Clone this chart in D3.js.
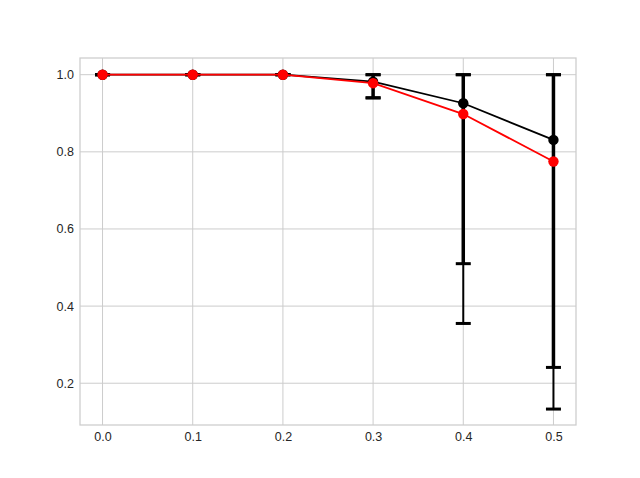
<!DOCTYPE html>
<html><head><meta charset="utf-8">
<script src="https://cdn.jsdelivr.net/npm/d3@7"></script>
<style>body{margin:0;background:#fff}svg{display:block}</style>
</head><body>
<script>
const xs = [0.0, 0.1, 0.2, 0.3, 0.4, 0.5];
const blackVals = [1.0, 1.0, 1.0, 0.982, 0.926, 0.831];
const redVals = [1.0, 1.0, 1.0, 0.978, 0.898, 0.775];
// thick error bar (lower, upper)
const thickLo = [1.0, 1.0, 1.0, 0.94, 0.51, 0.241];
const thickHi = [1.0, 1.0, 1.0, 1.0, 1.0, 1.0];
// thin error bar (lower, upper)
const thinLo = [1.0, 1.0, 1.0, 0.94, 0.355, 0.133];
const thinHi = [1.0, 1.0, 1.0, 1.0, 1.0, 1.0];
const xTicks = [0.0, 0.1, 0.2, 0.3, 0.4, 0.5];
const yTicks = [0.2, 0.4, 0.6, 0.8, 1.0];

const W = 640, H = 478;
const L = 80, R = 576, T = 58, B = 425;
const svg = d3.select("body").append("svg").attr("width", W).attr("height", H);
const x = d3.scaleLinear().domain([-0.025, 0.525]).range([L, R]);
const y = d3.scaleLinear().domain([0.0917, 1.0433]).range([B, T]);

// grid
const g = svg.append("g");
g.selectAll(".gx").data(xTicks).join("line")
  .attr("x1", d => x(d)).attr("x2", d => x(d)).attr("y1", T).attr("y2", B)
  .attr("stroke", "#cccccc").attr("stroke-width", 1);
g.selectAll(".gy").data(yTicks).join("line")
  .attr("y1", d => y(d)).attr("y2", d => y(d)).attr("x1", L).attr("x2", R)
  .attr("stroke", "#cccccc").attr("stroke-width", 1);

// axes via d3
const xAxis = svg.append("g").attr("transform", `translate(0,${B})`)
  .call(d3.axisBottom(x).tickValues(xTicks).tickFormat(d3.format(".1f")).tickSize(0).tickPadding(7));
const yAxis = svg.append("g").attr("transform", `translate(${L},0)`)
  .call(d3.axisLeft(y).tickValues(yTicks).tickFormat(d3.format(".1f")).tickSize(0).tickPadding(6));
[xAxis, yAxis].forEach(a => {
  a.select(".domain").remove();
  a.selectAll("text").attr("font-family", "Liberation Sans, Arial, sans-serif")
    .attr("font-size", "12.5px").attr("fill", "#262626");
});
svg.append("rect").attr("x", L).attr("y", T).attr("width", R - L).attr("height", B - T)
  .attr("fill", "none").attr("stroke", "#cccccc").attr("stroke-width", 1.25);

const capW = 7.5;
function errbars(lo, hi, sw) {
  const eg = svg.append("g");
  xs.forEach((xv, i) => {
    eg.append("line").attr("x1", x(xv)).attr("x2", x(xv)).attr("y1", y(lo[i])).attr("y2", y(hi[i]))
      .attr("stroke", "#000").attr("stroke-width", sw);
    [lo[i], hi[i]].forEach(v => {
      eg.append("line").attr("x1", x(xv) - capW).attr("x2", x(xv) + capW).attr("y1", y(v)).attr("y2", y(v))
        .attr("stroke", "#000").attr("stroke-width", 3);
    });
  });
}
errbars(thinLo, thinHi, 2);
errbars(thickLo, thickHi, 3.5);

const line = d3.line().x((d, i) => x(xs[i])).y(d => y(d));
function series(vals, color) {
  svg.append("path").datum(vals).attr("d", line).attr("fill", "none")
    .attr("stroke", color).attr("stroke-width", 1.8);
  svg.append("g").selectAll("circle").data(vals).join("circle")
    .attr("cx", (d, i) => x(xs[i])).attr("cy", d => y(d)).attr("r", 5.2).attr("fill", color);
}
series(blackVals, "#000000");
series(redVals, "#ff0000");
</script>
</body></html>
